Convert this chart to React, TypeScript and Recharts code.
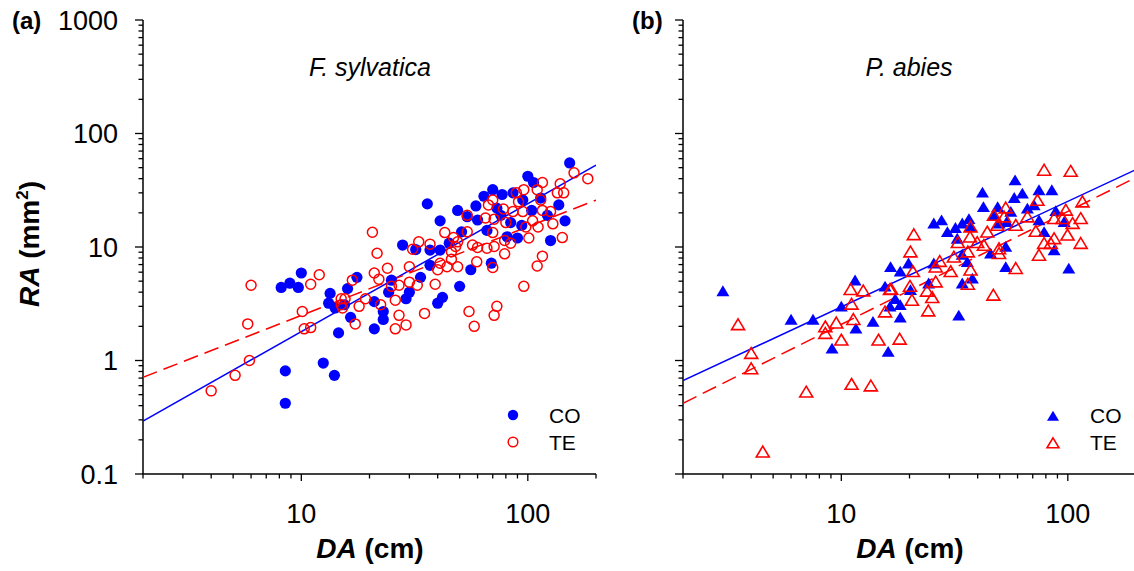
import React from "react";
import { ScatterChart, Scatter, XAxis, YAxis } from "recharts";

const BLUE = "#0000ff";
const RED = "#ff0000";
const FONT = "'Liberation Sans', Arial, sans-serif";

// ---- tick values ----
const xTicks = [2, 3, 4, 5, 6, 7, 8, 9, 10, 20, 30, 40, 50, 60, 70, 80, 90, 100, 200];
const xMajor = [10, 100];
const yTicks = [
  0.1, 0.2, 0.3, 0.4, 0.5, 0.6, 0.7, 0.8, 0.9,
  1, 2, 3, 4, 5, 6, 7, 8, 9,
  10, 20, 30, 40, 50, 60, 70, 80, 90,
  100, 200, 300, 400, 500, 600, 700, 800, 900, 1000,
];
const yMajor = [0.1, 1, 10, 100, 1000];

// ---- panel (a) F. sylvatica ----
const coA: [number, number][] = [
  [10.0, 5.9], [8.15, 4.4], [8.9, 4.8], [9.7, 4.4], [13.4, 3.9], [13.2, 3.2], [14.1, 2.9], [14.6, 1.75],
  [12.5, 0.95], [14.0, 0.74], [8.5, 0.81], [8.5, 0.42],
  [153, 55], [100, 42], [106, 37], [70, 32], [77, 29], [64, 28], [86, 30], [36, 24], [49, 21], [59, 23],
  [41, 17], [54, 18.5], [137, 23.5], [146, 17], [126, 11.4], [28, 10.4], [32, 9.5], [37, 9.4], [41, 9.4],
  [66, 14], [81, 12.3], [90, 12], [95, 26], [114, 27], [122, 19], [60, 17.3], [73, 22],
  [17.6, 5.4], [16, 4.3], [25, 5.1], [33.6, 5.4], [30, 4.0], [24.3, 4.0], [29, 3.5], [42, 3.6], [40, 3.2],
  [23, 2.7], [23, 2.3], [21, 1.9], [16.5, 2.4], [50, 4.5], [56, 6.3], [37, 6.9], [69, 7.2], [21, 3.3],
  [45, 10.8], [51, 13.6], [76, 19], [84, 16.4], [104, 21], [94, 15.5], [15.5, 3.1],
];
const teA: [number, number][] = [
  [12, 5.7], [6.0, 4.6], [11, 4.7], [10.1, 2.7], [5.8, 2.1], [10.3, 1.9], [11, 1.95], [5.9, 1.0], [5.1, 0.74],
  [4.0, 0.54], [15, 3.5], [15.2, 2.9],
  [160, 45], [184, 40], [116, 37], [139, 36], [96, 32], [89, 30], [110, 32], [135, 30], [144, 30], [70, 26],
  [91, 25], [114, 26], [67, 23.5], [78, 21.6], [86, 20.5], [95, 20.5], [54, 19], [116, 21], [126, 20.5],
  [65, 18], [71, 17.6], [80, 16.4], [105, 17], [111, 15], [129, 16], [98, 15], [20.6, 13.5], [54, 13.6],
  [70, 13.4], [43, 13.4], [47, 12.1], [142, 12.1], [101, 12], [33, 11.1], [37, 10.6], [49, 11.1], [79, 11.4],
  [84, 10.8], [48, 10.1], [57, 10.4], [60, 9.9], [71, 10.1], [31, 9.55], [21.6, 8.8], [79, 8.7], [116, 8.3],
  [46, 9.1], [66, 9.75],
  [16.8, 5.1], [21, 5.9], [24, 6.5], [22, 5.2], [25, 4.5], [27, 4.6], [30, 4.9], [32.5, 4.6], [39, 4.7],
  [40, 6.3], [44, 6.7], [49, 6.7], [59.5, 7.4], [70, 6.6], [96, 4.5], [110, 6.8], [15.6, 3.5], [19.2, 3.5],
  [18, 3.0], [22.4, 3.1], [26, 3.4], [27, 2.5], [35, 2.6], [29, 2.06], [26, 1.9], [17.3, 2.1], [55, 2.7],
  [73, 3.0], [71, 2.5], [58, 2.0], [15, 3.1], [30, 6.7], [41, 7.2], [46, 7.8],
];
const fitCoA: [number, number][] = [[2, 0.293], [200, 52.7]];
const fitTeA: [number, number][] = [[2, 0.711], [200, 25.9]];

// ---- panel (b) P. abies ----
const coB: [number, number][] = [
  [3.0, 4.1], [6.0, 2.3], [7.5, 2.3], [10, 3.0], [11.6, 1.92], [13.8, 2.2], [9.1, 1.28], [16.1, 1.2],
  [15.6, 4.5], [11.5, 5.1], [16.4, 3.0],
  [58.5, 38.9], [85, 31.8], [74.6, 31.8], [63, 29.7], [42, 30.3], [58, 27.2], [42.4, 22.6], [49, 22.6],
  [56, 20.5], [71, 23.4], [88.5, 20.8], [25.6, 16.2], [27.7, 17.3], [34.2, 16.2], [36.6, 17.7], [29.4, 13.6],
  [31.9, 14.8], [37.2, 15.1], [47.2, 19.1], [49.7, 16.2], [53.7, 16.7], [78.6, 13.6], [96.3, 16.7], [87, 9.4],
  [53.2, 10.1], [45.6, 8.8], [32.5, 11.9], [34.2, 8.6], [36, 7.4], [16.5, 6.7], [18.2, 6.1], [19.8, 7.2],
  [25.6, 7.2], [53.2, 6.7], [101, 6.5], [66.3, 21.9], [74.6, 17.3],
  [17.3, 3.5], [18.2, 3.1], [18.2, 2.4], [20.2, 4.2], [33, 2.5], [34.2, 4.8], [37.9, 5.3], [24.3, 4.8],
];
const teB: [number, number][] = [
  [3.5, 2.08], [4.0, 1.16], [4.0, 0.85], [4.5, 0.157], [7.0, 0.53], [8.5, 1.99], [8.5, 1.74], [9.5, 2.15],
  [11.3, 2.31], [11.1, 3.15], [11.0, 4.24], [12.5, 4.12], [10, 1.52], [14.6, 1.52], [11.1, 0.62], [13.5, 0.6],
  [15.6, 2.69], [16.4, 4.24],
  [78.6, 47.7], [103, 46.7], [116, 25.1], [114, 17.9], [105, 16.2], [99.7, 12.8], [114, 10.8], [87, 11.9],
  [78.6, 10.8], [74.6, 8.5], [72.2, 13.8], [73.4, 25.9], [53.2, 22.2], [47.2, 19.1], [52.3, 18.5], [48.9, 15.6],
  [44.1, 13.6], [37.2, 15.1], [37, 12.3], [32.7, 11], [39.8, 11], [42.6, 10.4], [49.7, 9.7], [49.7, 8.8],
  [36.2, 9.1], [31.4, 8.2], [27.2, 7.5], [20.9, 12.9], [20.2, 9.1], [20.7, 6.1], [26.1, 6.7], [30.4, 6.1],
  [37.2, 6.3], [58.9, 6.5], [66.3, 18.5], [58.9, 15.6], [87, 17.9], [94.8, 17.9], [84.1, 10.8], [98, 21.2],
  [20.1, 4.53], [16.6, 4.27], [20.5, 3.41], [23.9, 4.1], [25.2, 3.6], [24.2, 2.75], [26.1, 4.95], [36.2, 4.72],
  [46.9, 3.78], [18.1, 1.55],
];
const fitCoB: [number, number][] = [[2, 0.664], [200, 48.1]];
const fitTeB: [number, number][] = [[2, 0.42], [200, 41.0]];

const toPts = (arr: [number, number][]) => arr.map(([x, y]) => ({ x, y }));

// ---- shapes ----
const FilledCircle = (p: any) => <circle cx={p.cx} cy={p.cy} r={5.6} fill={BLUE} />;
const OpenCircle = (p: any) => (
  <circle cx={p.cx} cy={p.cy} r={5} fill="none" stroke={RED} strokeWidth={1.5} />
);
const triPath = (cx: number, cy: number) =>
  `M${cx},${cy - 5.6} L${cx + 6.5},${cy + 5.2} L${cx - 6.5},${cy + 5.2} Z`;
const FilledTri = (p: any) => <path d={triPath(p.cx, p.cy)} fill={BLUE} />;
const OpenTri = (p: any) => (
  <path d={triPath(p.cx, p.cy)} fill="none" stroke={RED} strokeWidth={1.6} strokeLinejoin="miter" />
);
const NoShape = () => <g />;

// ---- ticks ----
const XTick = (p: any) => {
  const v = p.payload.value;
  const major = xMajor.includes(v);
  return (
    <g>
      <line x1={p.x} x2={p.x} y1={p.y} y2={p.y + (major ? 7 : 4.5)} stroke="#000" strokeWidth={1.3} />
      {major && (
        <text x={p.x} y={p.y + 49} textAnchor="middle" fontSize={27} fontFamily={FONT} fill="#000">
          {v}
        </text>
      )}
    </g>
  );
};
const makeYTick = (showLabels: boolean) => (p: any) => {
  const v = p.payload.value;
  const major = yMajor.includes(v);
  return (
    <g>
      <line x1={p.x} x2={p.x - (major ? 8 : 4.5)} y1={p.y} y2={p.y} stroke="#000" strokeWidth={1.3} />
      {major && showLabels && (
        <text x={p.x - 25} y={p.y + 9.5} textAnchor="end" fontSize={27} fontFamily={FONT} fill="#000">
          {String(v)}
        </text>
      )}
    </g>
  );
};

const Panel = ({
  co, te, fitCo, fitTe, coShape, teShape, yAxisWidth, width, marginRight, showYLabels,
}: any) => (
  <ScatterChart
    width={width}
    height={571}
    margin={{ top: 20, right: marginRight, bottom: 0, left: 0 }}
  >
    <XAxis
      xAxisId="b"
      dataKey="x"
      type="number"
      scale="log"
      domain={[2, 200]}
      allowDataOverflow
      ticks={xTicks}
      interval={0}
      tickSize={0}
      tickMargin={0}
      tickLine={false}
      tick={XTick}
      height={97}
      axisLine={{ stroke: "#000", strokeWidth: 1.5 }}
    />
    <XAxis
      xAxisId="t"
      orientation="top"
      type="number"
      scale="log"
      domain={[2, 200]}
      allowDataOverflow
      tick={false}
      tickLine={false}
      height={0}
      axisLine={{ stroke: "#000", strokeWidth: 1.5 }}
    />
    <YAxis
      yAxisId="l"
      dataKey="y"
      type="number"
      scale="log"
      domain={[0.1, 1000]}
      allowDataOverflow
      ticks={yTicks}
      interval={0}
      tickSize={0}
      tickMargin={0}
      tickLine={false}
      tick={makeYTick(showYLabels)}
      width={yAxisWidth}
      axisLine={{ stroke: "#000", strokeWidth: 1.5 }}
    />
    <YAxis
      yAxisId="r"
      orientation="right"
      type="number"
      scale="log"
      domain={[0.1, 1000]}
      allowDataOverflow
      tick={false}
      tickLine={false}
      width={0}
      axisLine={{ stroke: "#000", strokeWidth: 1.5 }}
    />
    <Scatter
      xAxisId="b"
      yAxisId="l"
      data={toPts(fitCo)}
      line={{ stroke: BLUE, strokeWidth: 1.5 }}
      shape={NoShape}
      isAnimationActive={false}
    />
    <Scatter
      xAxisId="b"
      yAxisId="l"
      data={toPts(fitTe)}
      line={{ stroke: RED, strokeWidth: 1.5, strokeDasharray: "15 7" }}
      shape={NoShape}
      isAnimationActive={false}
    />
    <Scatter xAxisId="b" yAxisId="l" data={toPts(co)} shape={coShape} isAnimationActive={false} />
    <Scatter xAxisId="b" yAxisId="l" data={toPts(te)} shape={teShape} isAnimationActive={false} />
  </ScatterChart>
);

export default function App() {
  return (
    <div
      style={{
        position: "absolute",
        left: 0,
        top: 0,
        width: 1134,
        height: 571,
        overflow: "hidden",
        background: "#fff",
      }}
    >
      <div style={{ position: "absolute", left: 0, top: 0 }}>
        <Panel
          co={coA}
          te={teA}
          fitCo={fitCoA}
          fitTe={fitTeA}
          coShape={FilledCircle}
          teShape={OpenCircle}
          yAxisWidth={143}
          width={600}
          marginRight={4}
          showYLabels={true}
        />
      </div>
      <div style={{ position: "absolute", left: 600, top: 0 }}>
        <Panel
          co={coB}
          te={teB}
          fitCo={fitCoB}
          fitTe={fitTeB}
          coShape={FilledTri}
          teShape={OpenTri}
          yAxisWidth={83}
          width={536}
          marginRight={0}
          showYLabels={false}
        />
      </div>
      <svg
        width={1134}
        height={571}
        style={{ position: "absolute", left: 0, top: 0, pointerEvents: "none" }}
        fontFamily={FONT}
      >
        <text x={12} y={29} fontSize={24} fontWeight="bold">(a)</text>
        <text x={632} y={29} fontSize={24} fontWeight="bold">(b)</text>
        <text x={370} y={76} fontSize={25} fontStyle="italic" textAnchor="middle">F. sylvatica</text>
        <text x={909} y={76} fontSize={25} fontStyle="italic" textAnchor="middle">P. abies</text>
        <text x={370} y={558} fontSize={28} fontWeight="bold" textAnchor="middle">
          <tspan fontStyle="italic">DA</tspan> (cm)
        </text>
        <text x={910} y={558} fontSize={28} fontWeight="bold" textAnchor="middle">
          <tspan fontStyle="italic">DA</tspan> (cm)
        </text>
        <text
          transform="translate(39,244) rotate(-90)"
          fontSize={28}
          fontWeight="bold"
          textAnchor="middle"
        >
          <tspan fontStyle="italic">RA</tspan> (mm
          <tspan fontSize={17} dy={-11}>2</tspan>
          <tspan dy={11}>)</tspan>
        </text>
        {/* legend (a) */}
        <circle cx={513} cy={415} r={5.2} fill={BLUE} />
        <circle cx={513} cy={442} r={4.8} fill="none" stroke={RED} strokeWidth={1.5} />
        <text x={549} y={422.5} fontSize={21}>CO</text>
        <text x={549} y={449.5} fontSize={21}>TE</text>
        {/* legend (b) */}
        <path d="M1053,410.8 L1059,420.8 L1047,420.8 Z" fill={BLUE} />
        <path d="M1053,437.8 L1059,447.8 L1047,447.8 Z" fill="none" stroke={RED} strokeWidth={1.6} />
        <text x={1090} y={422.5} fontSize={21}>CO</text>
        <text x={1090} y={449.5} fontSize={21}>TE</text>
      </svg>
    </div>
  );
}
